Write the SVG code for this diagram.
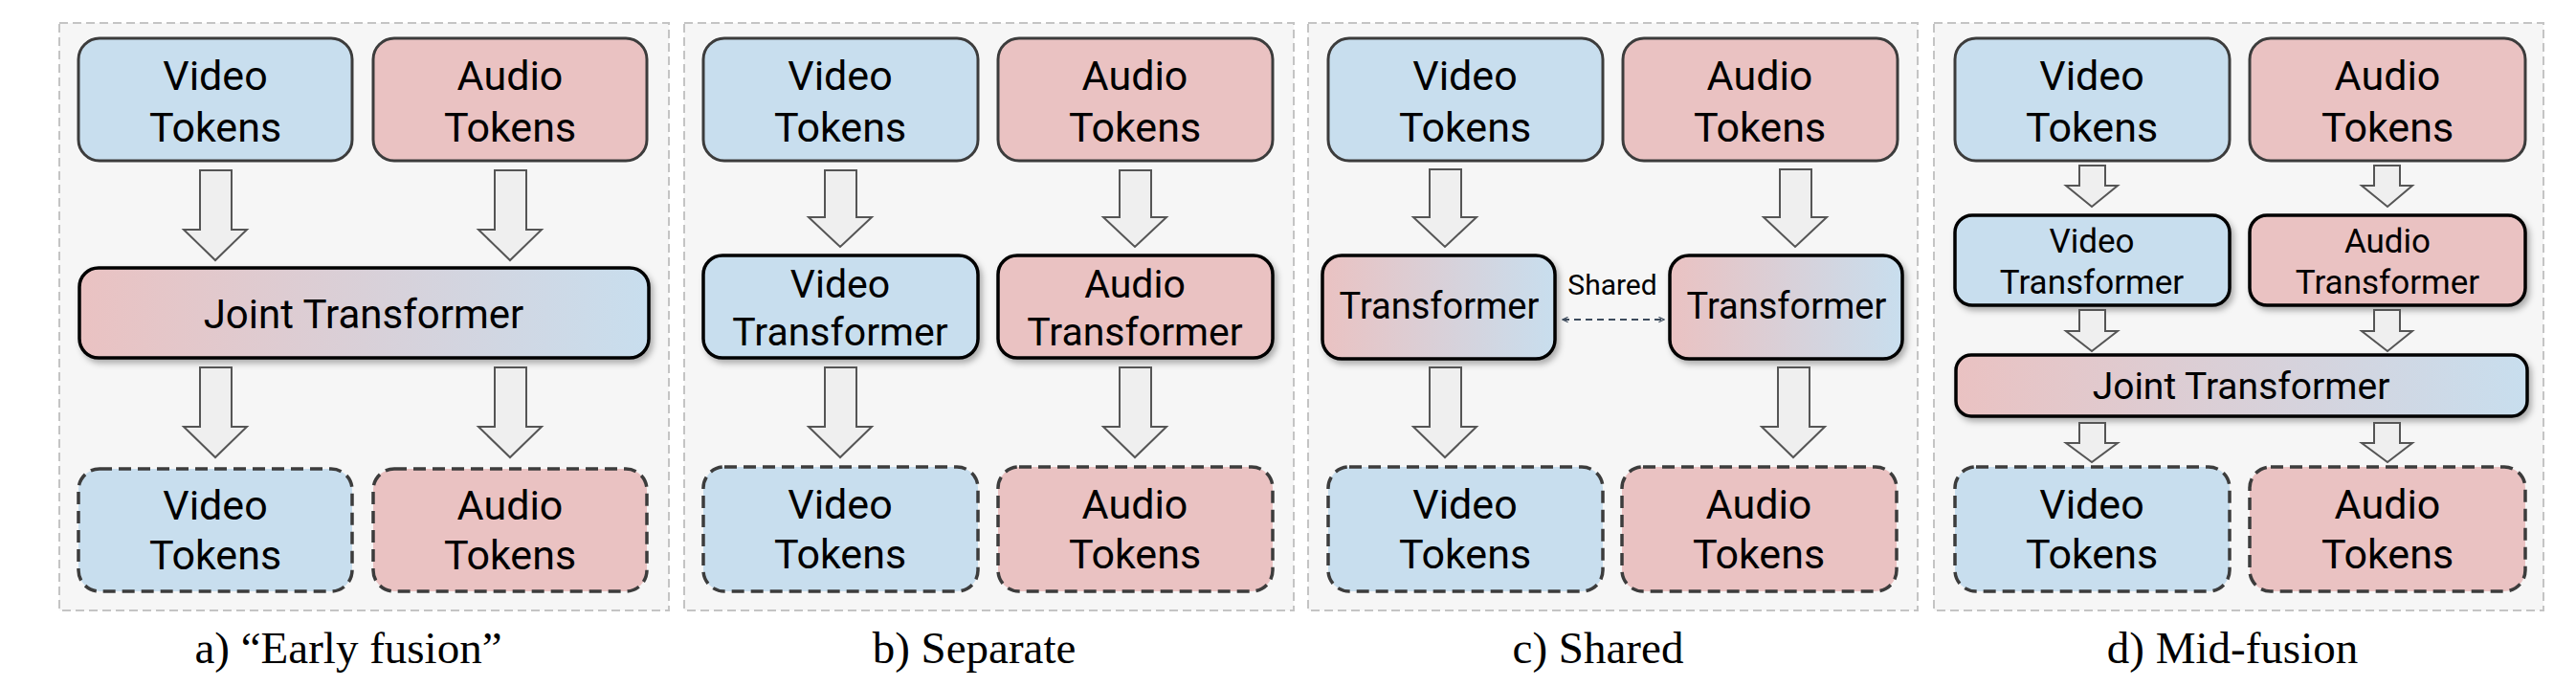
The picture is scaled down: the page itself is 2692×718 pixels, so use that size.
<svg xmlns="http://www.w3.org/2000/svg" width="2692" height="718" viewBox="0 0 2692 718">
<style>
.panel{fill:#f6f6f6;stroke:#c4c4c4;stroke-width:2;stroke-dasharray:9 5}
.vid{fill:#c8deee}
.aud{fill:#eac2c2}
.tok{stroke:#3c3c3c;stroke-width:3}
.out{stroke:#3c3c3c;stroke-width:3.5;stroke-dasharray:13 7}
.tr{stroke:#000;stroke-width:3.5;filter:url(#sh)}
.grad{fill:url(#pb)}
.t{font-family:Roboto,"Liberation Sans",sans-serif;fill:#000;text-anchor:middle}
.cap{font-family:"Liberation Serif","Times New Roman",serif;font-size:47px;fill:#000;text-anchor:middle}
.blk{fill:#efefef;stroke:#555;stroke-width:2;stroke-linejoin:miter}
</style>
<defs>
<linearGradient id="pb" x1="0" y1="0" x2="1" y2="0">
<stop offset="0" stop-color="#eac2c2"/>
<stop offset="1" stop-color="#c8deee"/>
</linearGradient>
<filter id="sh" x="-10%" y="-20%" width="125%" height="150%">
<feDropShadow dx="3" dy="4" stdDeviation="3" flood-color="#000" flood-opacity="0.3"/>
</filter>
<marker id="chev" viewBox="0 0 10 10" refX="9" refY="5" markerWidth="7" markerHeight="7" orient="auto-start-reverse" markerUnits="userSpaceOnUse">
<path d="M1,1 L9,5 L1,9" fill="none" stroke="#3d4b5c" stroke-width="1.6"/>
</marker>
</defs>

<!-- panels -->
<g id="panels">
<rect class="panel" x="62" y="24" width="637" height="614"/>
<rect class="panel" x="715" y="24" width="637" height="614"/>
<rect class="panel" x="1367" y="24" width="637" height="614"/>
<rect class="panel" x="2021" y="24" width="637" height="614"/>
</g>

<!-- Panel a -->
<g id="a-video-in"><rect class="vid tok" x="82" y="40" width="286" height="128" rx="22"/>
<text class="t" font-size="43" x="225" y="94">Video</text><text class="t" font-size="43" x="225" y="148">Tokens</text></g>
<g id="a-audio-in"><rect class="aud tok" x="390" y="40" width="286" height="128" rx="22"/>
<text class="t" font-size="43" x="533" y="94">Audio</text><text class="t" font-size="43" x="533" y="148">Tokens</text></g>
<g id="a-joint"><rect class="grad tr" x="83" y="280" width="595" height="94" rx="20"/>
<text class="t" font-size="42" x="380" y="343">Joint Transformer</text></g>
<g id="a-video-out"><rect class="vid out" x="82" y="490" width="286" height="128" rx="22"/>
<text class="t" font-size="43" x="225" y="543">Video</text><text class="t" font-size="43" x="225" y="595">Tokens</text></g>
<g id="a-audio-out"><rect class="aud out" x="390" y="490" width="286" height="128" rx="22"/>
<text class="t" font-size="43" x="533" y="543">Audio</text><text class="t" font-size="43" x="533" y="595">Tokens</text></g>

<!-- Panel b -->
<g id="b-video-in"><rect class="vid tok" x="735" y="40" width="287" height="128" rx="22"/>
<text class="t" font-size="43" x="878" y="94">Video</text><text class="t" font-size="43" x="878" y="148">Tokens</text></g>
<g id="b-audio-in"><rect class="aud tok" x="1043" y="40" width="287" height="128" rx="22"/>
<text class="t" font-size="43" x="1186" y="94">Audio</text><text class="t" font-size="43" x="1186" y="148">Tokens</text></g>
<g id="b-video-tr"><rect class="vid tr" x="735" y="267" width="287" height="107" rx="20"/>
<text class="t" font-size="41" x="878" y="311">Video</text><text class="t" font-size="41" x="878" y="361">Transformer</text></g>
<g id="b-audio-tr"><rect class="aud tr" x="1043" y="267" width="287" height="107" rx="20"/>
<text class="t" font-size="41" x="1186" y="311">Audio</text><text class="t" font-size="41" x="1186" y="361">Transformer</text></g>
<g id="b-video-out"><rect class="vid out" x="735" y="488" width="287" height="130" rx="22"/>
<text class="t" font-size="43" x="878" y="542">Video</text><text class="t" font-size="43" x="878" y="594">Tokens</text></g>
<g id="b-audio-out"><rect class="aud out" x="1043" y="488" width="287" height="130" rx="22"/>
<text class="t" font-size="43" x="1186" y="542">Audio</text><text class="t" font-size="43" x="1186" y="594">Tokens</text></g>

<!-- Panel c -->
<g id="c-video-in"><rect class="vid tok" x="1388" y="40" width="287" height="128" rx="22"/>
<text class="t" font-size="43" x="1531" y="94">Video</text><text class="t" font-size="43" x="1531" y="148">Tokens</text></g>
<g id="c-audio-in"><rect class="aud tok" x="1696" y="40" width="287" height="128" rx="22"/>
<text class="t" font-size="43" x="1839" y="94">Audio</text><text class="t" font-size="43" x="1839" y="148">Tokens</text></g>
<g id="c-tr-left"><rect class="grad tr" x="1382" y="267" width="243" height="108" rx="20"/>
<text class="t" font-size="38" x="1504" y="333">Transformer</text></g>
<g id="c-tr-right"><rect class="grad tr" x="1745" y="267" width="243" height="108" rx="20"/>
<text class="t" font-size="38" x="1867" y="333">Transformer</text></g>
<g id="c-video-out"><rect class="vid out" x="1388" y="488" width="287" height="130" rx="22"/>
<text class="t" font-size="43" x="1531" y="542">Video</text><text class="t" font-size="43" x="1531" y="594">Tokens</text></g>
<g id="c-audio-out"><rect class="aud out" x="1695" y="488" width="287" height="130" rx="22"/>
<text class="t" font-size="43" x="1838" y="542">Audio</text><text class="t" font-size="43" x="1838" y="594">Tokens</text></g>

<!-- Panel d -->
<g id="d-video-in"><rect class="vid tok" x="2043" y="40" width="287" height="128" rx="22"/>
<text class="t" font-size="43" x="2186" y="94">Video</text><text class="t" font-size="43" x="2186" y="148">Tokens</text></g>
<g id="d-audio-in"><rect class="aud tok" x="2351" y="40" width="288" height="128" rx="22"/>
<text class="t" font-size="43" x="2495" y="94">Audio</text><text class="t" font-size="43" x="2495" y="148">Tokens</text></g>
<g id="d-video-tr"><rect class="vid tr" x="2043" y="225" width="287" height="94" rx="18"/>
<text class="t" font-size="35" x="2186" y="264">Video</text><text class="t" font-size="35" x="2186" y="307">Transformer</text></g>
<g id="d-audio-tr"><rect class="aud tr" x="2351" y="225" width="288" height="94" rx="18"/>
<text class="t" font-size="35" x="2495" y="264">Audio</text><text class="t" font-size="35" x="2495" y="307">Transformer</text></g>
<g id="d-joint"><rect class="grad tr" x="2044" y="371" width="597" height="64" rx="16"/>
<text class="t" font-size="39" x="2342" y="417">Joint Transformer</text></g>
<g id="d-video-out"><rect class="vid out" x="2043" y="488" width="287" height="130" rx="22"/>
<text class="t" font-size="43" x="2186" y="542">Video</text><text class="t" font-size="43" x="2186" y="594">Tokens</text></g>
<g id="d-audio-out"><rect class="aud out" x="2351" y="488" width="288" height="130" rx="22"/>
<text class="t" font-size="43" x="2495" y="542">Audio</text><text class="t" font-size="43" x="2495" y="594">Tokens</text></g>

<!-- connectors -->
<g id="connectors">
<!-- panel a -->
<path class="blk" d="M209,178 H242 V240 H258 L225,272 L192,240 H209 Z"/>
<path class="blk" d="M517,178 H550 V240 H566 L533,272 L500,240 H517 Z"/>
<path class="blk" d="M209,384 H242 V446 H258 L225,478 L192,446 H209 Z"/>
<path class="blk" d="M517,384 H550 V446 H566 L533,478 L500,446 H517 Z"/>
<!-- panel b -->
<path class="blk" d="M862,178 H895 V227 H911 L878,258 L845,227 H862 Z"/>
<path class="blk" d="M1170,178 H1203 V227 H1219 L1186,258 L1153,227 H1170 Z"/>
<path class="blk" d="M862,384 H895 V446 H911 L878,478 L845,446 H862 Z"/>
<path class="blk" d="M1170,384 H1203 V446 H1219 L1186,478 L1153,446 H1170 Z"/>
<!-- panel c -->
<path class="blk" d="M1494,177 H1527 V227 H1543 L1510,258 L1477,227 H1494 Z"/>
<path class="blk" d="M1860,177 H1893 V227 H1909 L1876,258 L1843,227 H1860 Z"/>
<path class="blk" d="M1494,384 H1527 V446 H1543 L1510,478 L1477,446 H1494 Z"/>
<path class="blk" d="M1858,384 H1891 V446 H1907 L1874,478 L1841,446 H1858 Z"/>
<line x1="1633" y1="334" x2="1739" y2="334" stroke="#3d4b5c" stroke-width="2.2" stroke-dasharray="7 5" marker-start="url(#chev)" marker-end="url(#chev)"/>
<text class="t" font-size="30" x="1685" y="308">Shared</text>
<!-- panel d -->
<path class="blk" d="M2173,173 H2200 V194 H2213 L2186,216 L2159,194 H2173 Z"/>
<path class="blk" d="M2481,173 H2508 V194 H2521 L2495,216 L2468,194 H2481 Z"/>
<path class="blk" d="M2173,324 H2200 V346 H2213 L2186,367 L2159,346 H2173 Z"/>
<path class="blk" d="M2481,324 H2508 V346 H2521 L2495,367 L2468,346 H2481 Z"/>
<path class="blk" d="M2173,442 H2200 V463 H2213 L2186,483 L2159,463 H2173 Z"/>
<path class="blk" d="M2481,442 H2508 V463 H2521 L2495,483 L2468,463 H2481 Z"/>
</g>

<!-- captions -->
<g id="captions">
<text class="cap" x="364" y="693">a) “Early fusion”</text>
<text class="cap" x="1018" y="693">b) Separate</text>
<text class="cap" x="1670" y="693">c) Shared</text>
<text class="cap" x="2333" y="693">d) Mid-fusion</text>
</g>
</svg>
